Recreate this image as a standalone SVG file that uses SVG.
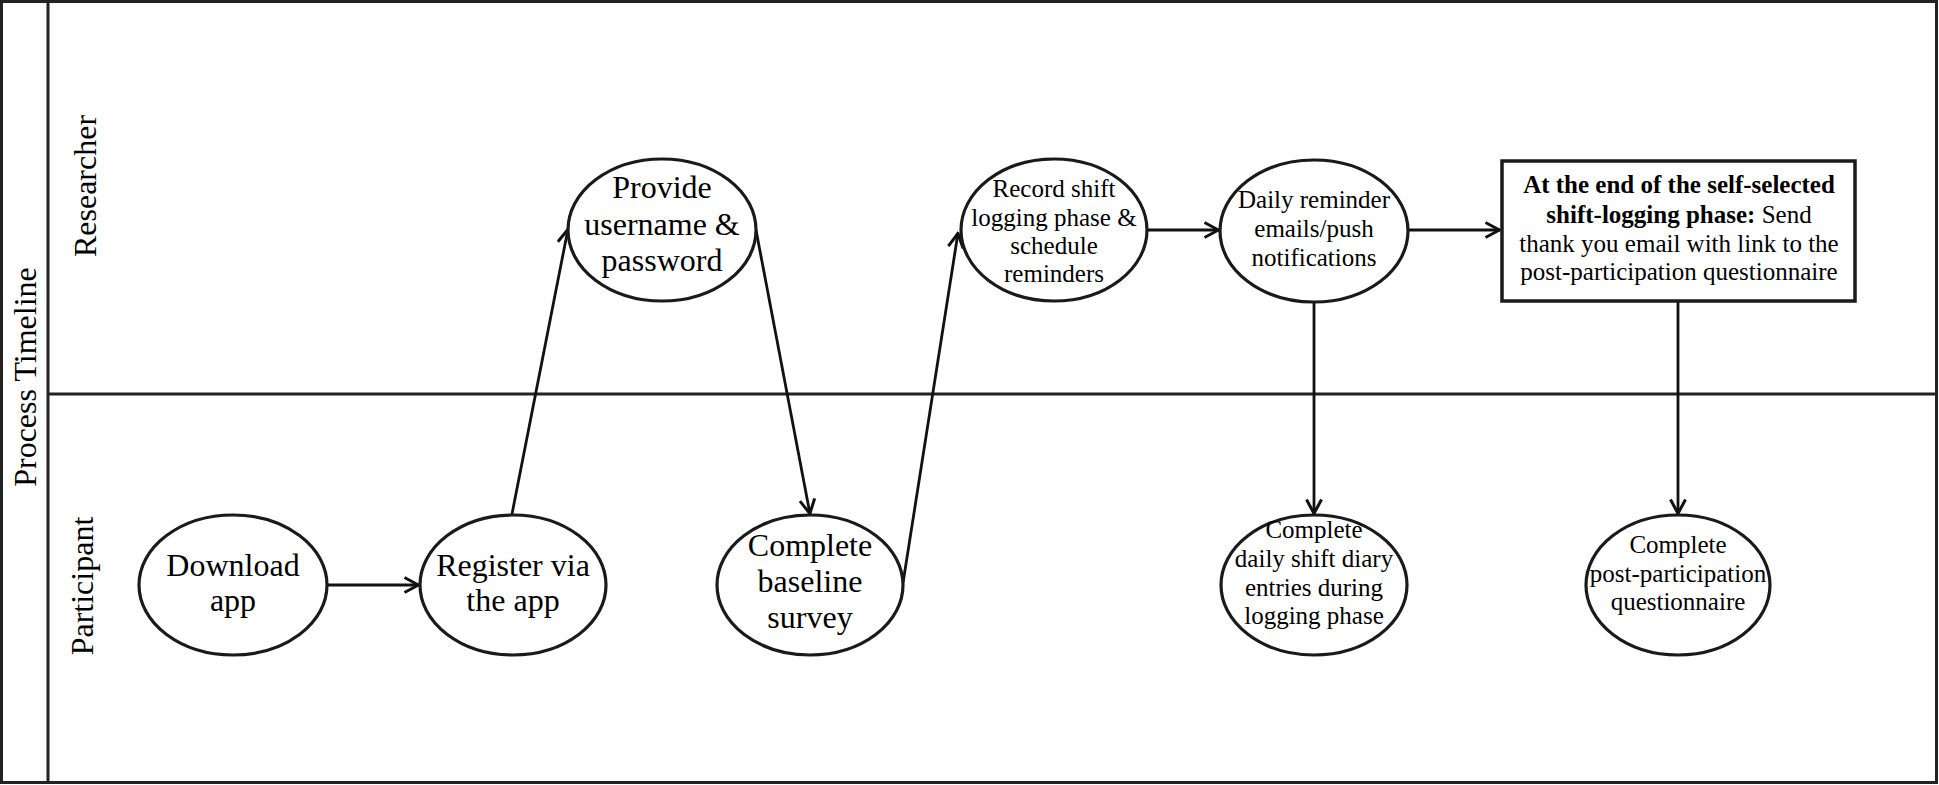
<svg xmlns="http://www.w3.org/2000/svg" width="1939" height="785" viewBox="0 0 1939 785">
<defs>
<marker id="arr" viewBox="0 0 18 18" refX="16.5" refY="9" markerWidth="18" markerHeight="18" markerUnits="userSpaceOnUse" orient="auto">
<path d="M2,1.5 L16,9 L2,16.5" fill="none" stroke="#111" stroke-width="3"/>
</marker>
<style>
.lane{fill:none;stroke:#222;stroke-width:3}
.node{fill:#fff;stroke:#1a1a1a;stroke-width:3.2}
.edge{fill:none;stroke:#111;stroke-width:2.8;marker-end:url(#arr)}
text{font-family:"Liberation Serif","Times New Roman",serif;fill:#000}
.lbl{font-size:32px}
.big{font-size:32px;text-anchor:middle}
.sm{font-size:25px;text-anchor:middle}
.b{font-weight:bold}
</style>
</defs>
<g id="lanes">
<rect class="lane" x="1.5" y="1.5" width="1935" height="781"/>
<line class="lane" x1="48" y1="1.5" x2="48" y2="782.5"/>
<line class="lane" x1="48" y1="394" x2="1937" y2="394"/>
<text class="lbl" text-anchor="middle" transform="translate(36,377) rotate(-90)">Process Timeline</text>
<text class="lbl" text-anchor="middle" transform="translate(96,186) rotate(-90)">Researcher</text>
<text class="lbl" text-anchor="middle" transform="translate(93,586) rotate(-90)">Participant</text>
</g>
<g id="connectors">
<line class="edge" x1="328" y1="585" x2="419" y2="585"/>
<line class="edge" x1="512" y1="514" x2="568" y2="229"/>
<line class="edge" x1="756" y1="230" x2="810" y2="514"/>
<line class="edge" x1="903" y1="583" x2="958" y2="233"/>
<line class="edge" x1="1146" y1="230" x2="1219" y2="230"/>
<line class="edge" x1="1408" y1="230" x2="1500" y2="230"/>
<line class="edge" x1="1314" y1="302" x2="1314" y2="514"/>
<line class="edge" x1="1678" y1="302" x2="1678" y2="514"/>
</g>
<g id="download">
<ellipse class="node" cx="233" cy="585" rx="94" ry="70"/>
<text class="big" x="233" y="576">Download</text>
<text class="big" x="233" y="611">app</text>
</g>
<g id="register">
<ellipse class="node" cx="513" cy="585" rx="93" ry="70"/>
<text class="big" x="513" y="576">Register via</text>
<text class="big" x="513" y="611">the app</text>
</g>
<g id="provide">
<ellipse class="node" cx="662" cy="230" rx="94" ry="71"/>
<text class="big" x="662" y="198">Provide</text>
<text class="big" x="662" y="235">username &amp;</text>
<text class="big" x="662" y="271">password</text>
</g>
<g id="baseline">
<ellipse class="node" cx="810" cy="585" rx="93" ry="70"/>
<text class="big" x="810" y="556">Complete</text>
<text class="big" x="810" y="592">baseline</text>
<text class="big" x="810" y="628">survey</text>
</g>
<g id="record">
<ellipse class="node" cx="1054" cy="230" rx="93" ry="71"/>
<text class="sm" x="1054" y="197">Record shift</text>
<text class="sm" x="1054" y="226">logging phase &amp;</text>
<text class="sm" x="1054" y="254">schedule</text>
<text class="sm" x="1054" y="282">reminders</text>
</g>
<g id="daily-reminder">
<ellipse class="node" cx="1314" cy="231" rx="94" ry="71"/>
<text class="sm" x="1314" y="208">Daily reminder</text>
<text class="sm" x="1314" y="237">emails/push</text>
<text class="sm" x="1314" y="266">notifications</text>
</g>
<g id="thankyou">
<rect x="1502" y="161" width="353" height="140" fill="#fff" stroke="#1a1a1a" stroke-width="3.5"/>
<text class="sm b" x="1679" y="193">At the end of the self-selected</text>
<text class="sm" x="1679" y="223"><tspan class="b">shift-logging phase:</tspan> Send</text>
<text class="sm" x="1679" y="252">thank you email with link to the</text>
<text class="sm" x="1679" y="280">post-participation questionnaire</text>
</g>
<g id="diary">
<ellipse class="node" cx="1314" cy="585" rx="93" ry="70"/>
<text class="sm" x="1314" y="538">Complete</text>
<text class="sm" x="1314" y="567">daily shift diary</text>
<text class="sm" x="1314" y="596">entries during</text>
<text class="sm" x="1314" y="624">logging phase</text>
</g>
<g id="post">
<ellipse class="node" cx="1678" cy="585" rx="92" ry="70"/>
<text class="sm" x="1678" y="553">Complete</text>
<text class="sm" x="1678" y="582">post-participation</text>
<text class="sm" x="1678" y="610">questionnaire</text>
</g>
</svg>
